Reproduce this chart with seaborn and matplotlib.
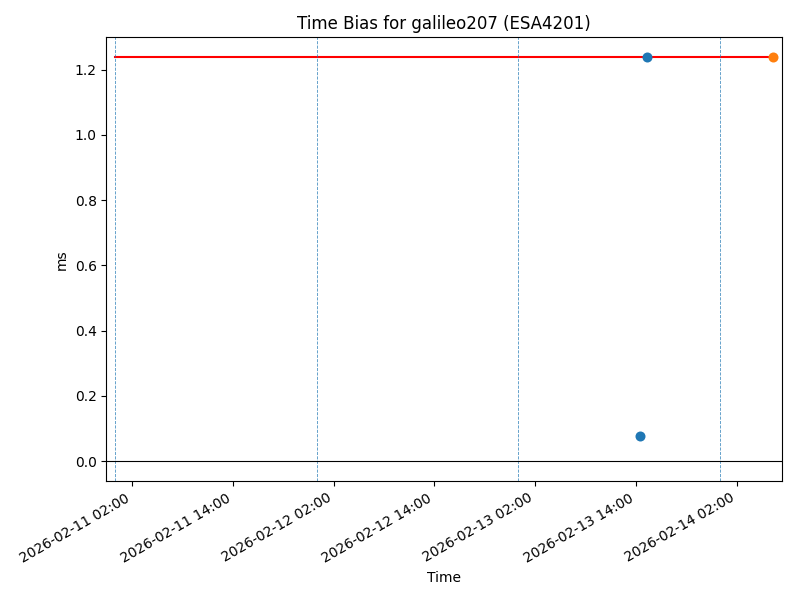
import matplotlib
matplotlib.use("Agg")
import matplotlib.pyplot as plt
import matplotlib.dates as mdates
import numpy as np
import pandas as pd
import seaborn as sns

# Data
satellite = "galileo207"
sat_id = "ESA4201"
bias_times = pd.to_datetime(["2026-02-13 15:17"])
bias_values = [1.238]
low_times = pd.to_datetime(["2026-02-13 14:31"])
low_values = [0.077]
latest_time = pd.to_datetime(["2026-02-14 06:22"])
latest_value = [1.238]
ref_value = 1.238
day_lines = pd.to_datetime(["2026-02-11", "2026-02-12", "2026-02-13", "2026-02-14"])

fig, ax = plt.subplots(figsize=(8, 6), dpi=100)

# reference level from first midnight to latest point
ref_df = pd.DataFrame({"t": [day_lines[0], latest_time[0]], "v": [ref_value, ref_value]})
sns.lineplot(data=ref_df, x="t", y="v", color="red", ax=ax, linewidth=1.5)

pts = pd.DataFrame({
    "t": list(low_times) + list(bias_times),
    "v": low_values + bias_values,
})
sns.scatterplot(data=pts, x="t", y="v", color="C0", s=52, linewidth=0, ax=ax, zorder=3)
sns.scatterplot(x=latest_time, y=latest_value, color="C1", s=52, linewidth=0, ax=ax, zorder=3)

for d in day_lines:
    ax.axvline(d, color="C0", linestyle="--", linewidth=0.6, alpha=0.8)
ax.axhline(0, color="black", linewidth=0.8)

ax.set_xlim(pd.Timestamp("2026-02-10 22:55"), pd.Timestamp("2026-02-14 07:22"))
ax.xaxis.set_major_locator(mdates.HourLocator(byhour=[2, 14]))
ax.xaxis.set_major_formatter(mdates.DateFormatter("%Y-%m-%d %H:%M"))
fig.autofmt_xdate()

ax.set_title(f"Time Bias for {satellite} ({sat_id})")
ax.set_xlabel("Time")
ax.set_ylabel("ms")

fig.subplots_adjust(left=0.133, right=0.977, top=0.938, bottom=0.198)
plt.savefig("out.png", dpi=100)
plt.close()
